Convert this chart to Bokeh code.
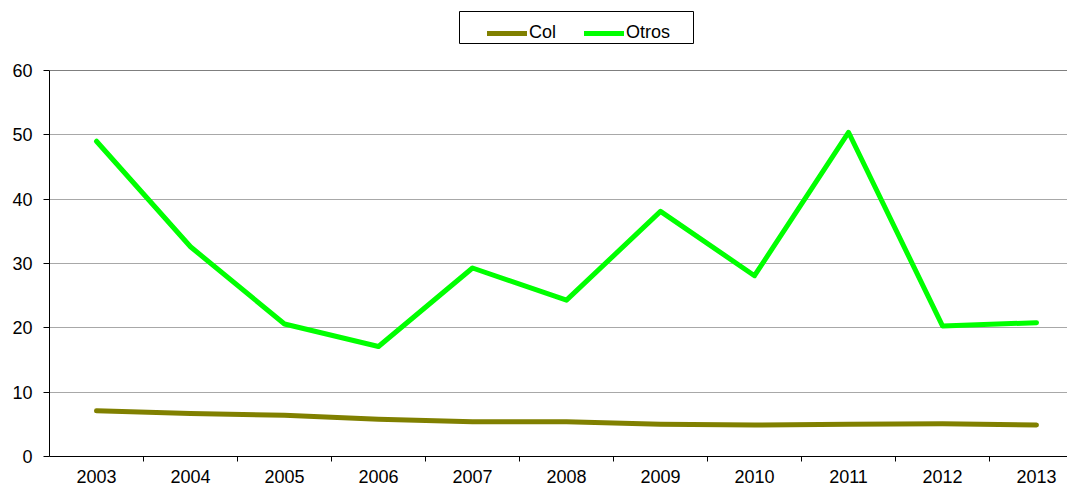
from bokeh.plotting import figure
from bokeh.layouts import column
from bokeh.models import Range1d, FixedTicker, Legend, LegendItem, Span, BoxAnnotation
from bokeh.embed import file_html
from bokeh.resources import INLINE

years = [2003, 2004, 2005, 2006, 2007, 2008, 2009, 2010, 2011, 2012, 2013]
col = [7.1, 6.7, 6.4, 5.8, 5.4, 5.4, 5.0, 4.9, 5.0, 5.1, 4.9]
otros = [49.0, 32.6, 20.6, 17.1, 29.3, 24.3, 38.1, 28.1, 50.4, 20.3, 20.8]
y_ticks = [0, 10, 20, 30, 40, 50, 60]
series_names = ["Col", "Otros"]
series_colors = ["#808000", "#00FF00"]

FONT = "Liberation Sans"

p = figure(width=1067, height=425, output_backend="svg", toolbar_location=None,
           x_range=Range1d(2002.5, 2002.5 + 1018 / 94), y_range=Range1d(0, 60),
           min_border_left=49, min_border_right=0, min_border_top=10, min_border_bottom=28)
p.background_fill_color = "white"
p.border_fill_color = "white"
p.outline_line_color = None

r_col = p.line(years, col, line_color=series_colors[0], line_width=5, line_cap="round", line_join="round")
r_otros = p.line(years, otros, line_color=series_colors[1], line_width=5, line_cap="round", line_join="round")

p.add_layout(Span(location=60, dimension="width", line_color="black", line_width=1))

# x axis: labels at category centres, tick marks between categories
p.xaxis.ticker = FixedTicker(ticks=years, minor_ticks=[y + 0.5 for y in years[:-1]])
p.xaxis.major_tick_out = 0
p.xaxis.major_tick_in = 0
p.xaxis.minor_tick_out = 5
p.xaxis.minor_tick_in = 0
p.xaxis.minor_tick_line_color = "black"
p.xaxis.axis_line_color = "black"
p.xaxis.major_label_text_font = FONT
p.xaxis.major_label_text_font_size = "18px"
p.xaxis.major_label_text_color = "black"
p.xaxis.major_label_standoff = 8
p.xgrid.grid_line_color = None

p.yaxis.ticker = FixedTicker(ticks=y_ticks, minor_ticks=[])
p.yaxis.major_tick_out = 6
p.yaxis.major_tick_in = 0
p.yaxis.major_tick_line_color = "black"
p.yaxis.axis_line_color = "black"
p.yaxis.major_label_text_font = FONT
p.yaxis.major_label_text_font_size = "18px"
p.yaxis.major_label_text_color = "black"
p.yaxis.major_label_standoff = 11
p.ygrid.grid_line_color = "#a8a8a8"
p.ygrid.grid_line_width = 1

# legend strip above the chart (frame aligned with main chart; 1 unit = 1 px)
lg = figure(width=1067, height=60, output_backend="svg", toolbar_location=None,
            x_range=Range1d(0, 1018), y_range=Range1d(0, 60),
            x_axis_type=None, y_axis_type=None, min_border=0)
lg.outline_line_color = None
lg.grid.visible = False
lg.add_layout(BoxAnnotation(left=410, right=644, bottom=17, top=49,
                            fill_color="white", fill_alpha=1,
                            line_color="black", line_width=1, line_alpha=1))
items = []
for name, color in zip(series_names, series_colors):
    r = lg.line([-10, -5], [-10, -10], line_color=color, line_width=5, line_cap="round")
    items.append(LegendItem(label=name, renderers=[r]))

legend = Legend(items=items, orientation="horizontal", location=(438, 17))
legend.border_line_color = None
legend.background_fill_alpha = 0
legend.label_text_font = FONT
legend.label_text_font_size = "18px"
legend.label_text_color = "black"
legend.glyph_width = 40
legend.glyph_height = 20
legend.label_standoff = 2
legend.spacing = 28
legend.padding = 6
legend.margin = 0
legend.label_height = 20
lg.add_layout(legend, "center")

layout = column(lg, p, spacing=0)
open("out.html", "w").write(file_html(layout, INLINE))
